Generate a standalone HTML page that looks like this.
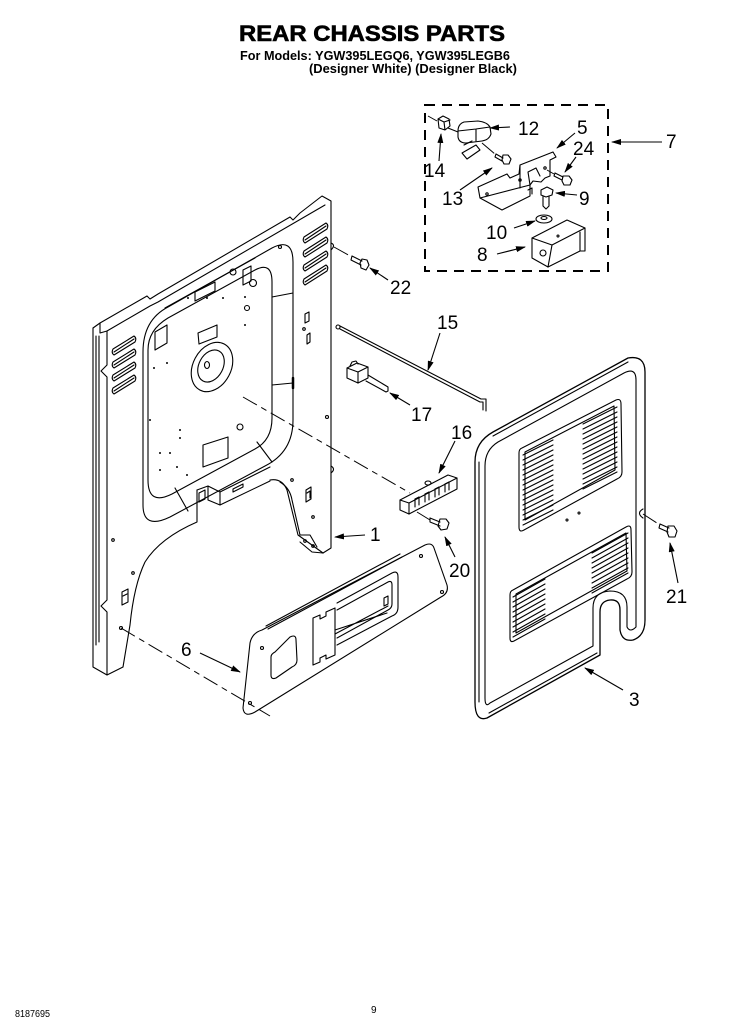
<!DOCTYPE html>
<html><head><meta charset="utf-8"><style>
html,body{margin:0;padding:0;background:#fff;}
svg{display:block;}
text{font-family:"Liberation Sans",Arial,sans-serif;fill:#000;}
.n{font-size:19px;}
</style></head><body>
<svg width="750" height="1036" viewBox="0 0 750 1036" xmlns="http://www.w3.org/2000/svg">
<rect width="750" height="1036" fill="#fff"/>
<!-- Titles -->
<text x="239" y="41" font-size="22" font-weight="bold" textLength="266" lengthAdjust="spacingAndGlyphs" stroke="#000" stroke-width="0.6">REAR CHASSIS PARTS</text>
<text x="240" y="60" font-size="13" font-weight="bold" textLength="270" lengthAdjust="spacingAndGlyphs">For Models: YGW395LEGQ6, YGW395LEGB6</text>
<text x="309" y="73" font-size="13" font-weight="bold" textLength="208" lengthAdjust="spacingAndGlyphs">(Designer White)  (Designer Black)</text>

<g fill="none" stroke="#000" stroke-width="1.1" stroke-linejoin="round" stroke-linecap="round">
<!-- ============ CHASSIS (1) ============ -->
<path d="M93,328 L100,323 L147,296 L150,299 L158,294 L290,217 L293,220 L300,213 L322,196 L331,201 L331,548 L323,553"/>
<path d="M100,323 L100,333 L107,331 L150,306 L158,302 L325,205"/>
<path d="M93,328 L93,667 L107,675 L123,667"/>
<path d="M107,331 L107,365 L101,371 L107,377 L107,600 L101,606 L107,612 L107,675"/>
<path d="M96,336 L96,645 M99,336 L99,642"/>
<path d="M123,667 L130,625 Q134,585 145,562 Q160,538 197,522 L197,490"/>
<!-- right leg -->
<path d="M270,480 Q282,478 287,490 L298,535 L323,553"/>
<path d="M280,482 Q290,488 292,500 L300,535 L310,535 L317,547"/>
<path d="M300,542 L312,552 L323,553"/>
<circle cx="305" cy="541" r="1.3"/><circle cx="313" cy="546" r="1.3"/>
<!-- channel -->
<path d="M197,490 L208,486 L220,492 L270,467"/>
<path d="M208,486 L208,500 L220,505 L270,481"/>
<path d="M220,492 L220,505"/>
<path d="M199,493 L205,490 L205,499 L199,502 Z"/>
<path d="M233,489 L243,484 L243,487 L233,492 Z"/>
<!-- recess -->
<path d="M143,352 Q143,320 168,307 L272,248 Q293,237 293,262 L293,420 Q293,452 265,466 L170,517 Q143,530 143,505 Z"/>
<path d="M148,350 Q148,330 168,318 L255,270 Q272,261 272,282 L272,418 Q272,440 255,449 L172,494 Q148,506 148,480 Z"/>
<path d="M272,297 L293,293 M272,385 L293,383 M257,442 L272,462 M175,488 L188,511 M165,308 L255,258"/>
<path d="M293,378 L293,388" stroke-width="2.5"/>
<ellipse cx="212" cy="367" rx="19" ry="26" transform="rotate(28 212 367)"/>
<ellipse cx="211" cy="366" rx="12" ry="17" transform="rotate(28 211 366)"/>
<ellipse cx="207" cy="365" rx="2.5" ry="3.5"/>
<path d="M155,332 L167,325 L167,343 L155,350 Z"/>
<path d="M198,333 L217,325 L217,337 L199,344 Z"/>
<path d="M203,445 L228,437 L228,458 L203,467 Z"/>
<path d="M195,292 L215,282 L215,291 L195,301 Z"/>
<path d="M243,270 L251,266 L251,281 L243,285 Z"/>
<circle cx="233" cy="272" r="3"/><circle cx="253" cy="283" r="3.5"/>
<circle cx="247" cy="308" r="2.5"/><circle cx="240" cy="427" r="3"/>
<circle cx="280" cy="247" r="1.5"/>
<g fill="#000" stroke="none">
<circle cx="188" cy="298" r="1"/><circle cx="207" cy="298" r="1"/><circle cx="223" cy="298" r="1"/>
<circle cx="245" cy="297" r="1"/><circle cx="245" cy="325" r="1"/><circle cx="167" cy="363" r="1"/>
<circle cx="154" cy="368" r="1"/><circle cx="150" cy="420" r="1"/><circle cx="180" cy="430" r="1"/>
<circle cx="180" cy="438" r="1"/><circle cx="160" cy="453" r="1"/><circle cx="170" cy="453" r="1"/>
<circle cx="177" cy="467" r="1"/><circle cx="160" cy="470" r="1"/><circle cx="187" cy="475" r="1"/>
</g>
<!-- louvers right -->
<path d="M304,237 L326,223 Q329,225 327,229 L305,243 Q302,241 304,237 Z M305,240 L326,226"/>
<path d="M304,251 L326,237 Q329,239 327,243 L305,257 Q302,255 304,251 Z M305,254 L326,240"/>
<path d="M304,265 L326,251 Q329,253 327,257 L305,271 Q302,269 304,265 Z M305,268 L326,254"/>
<path d="M304,279 L326,265 Q329,267 327,271 L305,285 Q302,283 304,279 Z M305,282 L326,268"/>
<!-- louvers left -->
<path d="M113,349 L134,336 Q137,338 135,342 L114,355 Q111,353 113,349 Z M114,352 L134,339"/>
<path d="M113,362 L134,349 Q137,351 135,355 L114,368 Q111,366 113,362 Z M114,365 L134,352"/>
<path d="M113,375 L134,362 Q137,364 135,368 L114,381 Q111,379 113,375 Z M114,378 L134,365"/>
<path d="M113,388 L134,375 Q137,377 135,381 L114,394 Q111,392 113,388 Z M114,391 L134,378"/>
<!-- side holes -->
<path d="M305,314 L309,312 L309,321 L305,323 Z M307,335 L310,333 L310,342 L307,344 Z"/>
<circle cx="304" cy="329" r="1.3"/><circle cx="327" cy="417" r="1.5"/>
<path d="M331,243 Q336,245 331,250 M331,466 Q336,469 331,473"/>
<circle cx="292" cy="480" r="1.3"/><circle cx="313" cy="517" r="1.3"/>
<path d="M306,490 L311,487 L311,499 L306,502 Z M307,493 L310,491 L310,498"/>
<circle cx="113" cy="540" r="1.3"/><circle cx="133" cy="573" r="1.3"/><circle cx="121" cy="628" r="1.5"/>
<path d="M122,592 L128,589 L128,602 L122,605 Z M123,596 L127,594"/>

<!-- ============ PART 15 rod ============ -->
<circle cx="338" cy="327" r="2"/>
<path d="M340,326 L481,399 L486,399 L486,411"/>
<path d="M340,329 L480,402 L483,402 L483,410"/>
<!-- ============ PART 17 switch ============ -->
<path d="M347,368 L357,363 L368,367 L358,372 Z"/>
<path d="M347,368 L347,378 L358,383 L358,372"/>
<path d="M358,383 L368,378 L368,367"/>
<path d="M350,366 L352,362 L356,361 L358,364"/>
<path d="M368,375 L388,387 L388,391 L386,392 L366,381"/>
<!-- ============ PART 16 terminal block ============ -->
<path d="M400,500 L448,475 L457,478 L409,503 Z"/>
<path d="M400,500 L400,510 L409,514 L409,503"/>
<path d="M409,514 L457,489 L457,478"/>
<path d="M415,499 L415,507 M419,497 L419,505 M425,494 L425,502 M429,492 L429,500 M435,489 L435,497 M439,487 L439,495 M445,484 L445,492 M449,482 L449,490"/>
<path d="M415,499 L419,497 M425,494 L429,492 M435,489 L439,487 M445,484 L449,482"/>
<ellipse cx="428" cy="483" rx="3" ry="2"/>
<!-- ============ PART 20 screw ============ -->
<path d="M430,518 L440,522 M430,522 L440,526 M430,518 L430,522"/>
<path d="M440,519 L446,519 L449,523 L447,529 L441,530 L438,526 Z"/>
<!-- ============ PART 22 screw ============ -->
<path d="M352,256 L362,261 M351,260 L361,265 M352,256 L351,260"/>
<path d="M362,259 L367,260 L369,265 L366,270 L361,268 L360,263 Z"/>
<!-- ============ PART 3 panel ============ -->
<path d="M487,718 L600,655 L600,612 Q600,601 610,600 Q620,599 620,610 L620,630 Q622,642 633,640 Q645,636 645,620 L645,372 Q645,355 628,358 L493,432 Q475,442 475,462 L475,702 Q475,722 487,718 Z" stroke-width="1.3"/>
<path d="M489,713 L597,653 M479,462 L479,702 M493,436 L628,362"/>
<path d="M490,703 L593,646 L593,608 Q593,592 610,591 Q627,591 627,607 L627,627 Q630,633 636,627 L636,380 Q636,367 624,373 L498,442 Q485,450 485,466 L485,698 Q485,708 490,703 Z"/>
<path d="M643,509 Q636,513 643,518"/>
<!-- upper vent -->
<path d="M522,448 L616,400 Q621,398 621,404 L622,472 Q622,477 617,479 L524,530 Q519,533 519,527 L519,453 Q519,449 522,448 Z"/>
<path d="M525,452 L614,406 L615,470 L525,520 Z"/>
<path d="M523,455 L553,440 M523,460 L553,445 M523,465 L553,450 M523,470 L553,455 M523,475 L553,460 M523,480 L553,465 M523,485 L553,470 M523,490 L553,475 M523,495 L553,480 M523,500 L553,485 M523,505 L553,490 M523,510 L553,495 M523,515 L553,500 M523,520 L553,505 M523,525 L553,510"/>
<path d="M583,424 L617,407 M583,429 L617,412 M583,434 L617,417 M583,439 L617,422 M583,444 L617,427 M583,449 L617,432 M583,454 L617,437 M583,459 L617,442 M583,464 L617,447 M583,469 L617,452 M583,474 L617,457 M583,479 L617,462 M583,484 L617,467 M583,489 L617,472"/>
<!-- lower vent -->
<path d="M513,590 L626,527 Q631,524 631,530 L632,572 Q632,577 627,579 L514,641 Q510,643 510,638 L510,595 Q510,591 513,590 Z"/>
<path d="M516,594 L626,533 L627,571 L516,633 Z"/>
<path d="M513,597 L545,579 M513,602 L545,584 M513,607 L545,589 M513,612 L545,594 M513,617 L545,599 M513,622 L545,604 M513,627 L545,609 M513,632 L545,614 M513,637 L545,619"/>
<path d="M592,553 L628,533 M592,558 L628,538 M592,563 L628,543 M592,568 L628,548 M592,573 L628,553 M592,578 L628,558 M592,583 L628,563 M592,588 L628,568 M592,593 L628,573"/>
<circle cx="567" cy="520" r="1"/><circle cx="579" cy="513" r="1"/>
<!-- ============ PART 21 screw ============ -->
<path d="M660,524 L669,528 M659,528 L668,532 M660,524 L659,528"/>
<path d="M668,526 L674,526 L677,531 L675,537 L669,537 L667,532 Z"/>
<!-- ============ PART 6 panel ============ -->
<path d="M250,643 Q252,633 262,630 L425,545 Q432,542 434,548 L447,585 Q449,593 441,597 L255,712 Q244,718 243,708 Z"/>
<path d="M266,626 L400,554 M268,629 L402,557"/>
<path d="M275,652 L290,637 Q296,634 296,640 L297,660 Q297,665 292,667 L276,678 Q271,680 271,675 L271,657 Q271,654 275,652 Z"/>
<path d="M313,618 L320,615 L320,619 L326,616 L326,612 L335,608 L335,655 L326,659 L326,655 L320,658 L320,662 L313,665 Z"/>
<path d="M337,603 L392,573 Q398,570 398,577 L398,607 Q398,614 392,616 L337,645 M337,610 L388,582 Q392,580 392,585 L392,604 Q392,608 388,610 L337,638"/>
<path d="M335,630 L387,613 M335,634 L388,606"/>
<path d="M384,598 L388,596 L388,604 L384,606 Z"/>
<circle cx="262" cy="648" r="1.5"/><circle cx="250" cy="703" r="1.5"/>
<circle cx="421" cy="556" r="1.5"/><circle cx="442" cy="592" r="1.5"/>

<!-- ============ DASHED BOX PARTS ============ -->
<!-- 14 nut -->
<path d="M438,119 L443,116 L449,119 L450,126 L445,130 L439,128 Z M438,119 L444,122 L450,120 M444,122 L445,130"/>
<!-- 12 -->
<path d="M458,131 Q458,124 464,122 L478,121 Q487,122 490,127 L491,134 Q489,140 482,141 L466,143 Q459,143 458,137 Z"/>
<path d="M458,131 L476,129 L490,127 M476,129 L476,141"/>
<path d="M462,153 L476,145 L480,150 L467,159 Z M464,145 L472,141"/>
<!-- 13 screw -->
<path d="M496,154 L503,158 M495,157 L502,161 M496,154 L495,157"/>
<path d="M503,155 L508,155 L511,159 L509,164 L504,164 L502,160 Z"/>
<!-- 5 bracket -->
<path d="M478,187 L507,174 L510,178 L519,174 L520,165 L553,152 L556,157 L550,160 L550,176 L545,178 L541,182 L533,181 L530,185 L530,196 L502,210 L480,198 Z"/>
<path d="M480,198 L530,185 M520,165 L520,188 M530,185 L528,172 L536,168 L540,176"/>
<path d="M528,190 L532,188 L532,194"/>
<circle cx="487" cy="194" r="1.2"/><circle cx="520" cy="180" r="1.2"/><circle cx="545" cy="168" r="1.2"/>
<!-- 24 screw -->
<path d="M555,173 L563,177 M554,176 L562,180 M555,173 L554,176"/>
<path d="M563,176 L569,176 L572,180 L570,185 L564,185 L562,181 Z"/>
<!-- 9 screw -->
<path d="M541,190 L547,187 L553,190 L552,195 L546,197 L541,195 Z"/>
<path d="M543,196 L543,206 L546,209 L549,206 L549,196"/>
<!-- 10 washer -->
<ellipse cx="544" cy="219" rx="8" ry="4"/>
<ellipse cx="544" cy="218" rx="3" ry="1.5"/>
<!-- 8 box -->
<path d="M532,238 L567,220 L585,228 L552,245 Z"/>
<path d="M532,238 L532,258 L548,267 L552,245"/>
<path d="M548,267 L580,251 L585,251 L585,228"/>
<path d="M580,251 L580,232"/>
<circle cx="543" cy="253" r="3"/><circle cx="558" cy="236" r="1"/>
</g>

<!-- dashed box -->
<rect x="425" y="105" width="183" height="166" fill="none" stroke="#000" stroke-width="2" stroke-dasharray="10,7"/>

<!-- dashed leader/hidden lines -->
<g fill="none" stroke="#000" stroke-width="1" stroke-dasharray="16,5,6,5">
<path d="M243,397 L410,493"/>
<path d="M121,628 L270,716"/>
<path d="M334,247 L352,257"/>
<path d="M643,514 L660,525"/>
<path d="M417,512 L430,520"/>
<path d="M428,116 L437,121"/>
<path d="M448,128 L458,132"/>
<path d="M482,143 L495,154"/>
<path d="M547,170 L554,174"/>
</g>

<!-- arrows -->
<defs>
<marker id="ah" markerWidth="10" markerHeight="6" refX="9" refY="3" orient="auto" markerUnits="userSpaceOnUse">
<path d="M0,0 L10,3 L0,6 Z" fill="#000"/>
</marker>
</defs>
<g fill="none" stroke="#000" stroke-width="1.1" marker-end="url(#ah)">
<path d="M510,127 L490,128"/>
<path d="M575,133 L557,148"/>
<path d="M576,157 L565,172"/>
<path d="M662,142 L612,142"/>
<path d="M439,161 L441,134"/>
<path d="M460,190 L492,168"/>
<path d="M577,195 L556,193"/>
<path d="M514,228 L535,221"/>
<path d="M497,254 L525,247"/>
<path d="M388,280 L370,268"/>
<path d="M440,333 L428,370"/>
<path d="M410,405 L390,393"/>
<path d="M455,441 L439,473"/>
<path d="M365,535 L335,537"/>
<path d="M455,557 L445,537"/>
<path d="M678,583 L670,543"/>
<path d="M623,690 L585,668"/>
<path d="M200,653 L240,672"/>
</g>

<!-- labels -->
<text class="n" x="518" y="135">12</text>
<text class="n" x="577" y="134">5</text>
<text class="n" x="573" y="155">24</text>
<text class="n" x="666" y="148">7</text>
<text class="n" x="424" y="177">14</text>
<text class="n" x="442" y="205">13</text>
<text class="n" x="579" y="205">9</text>
<text class="n" x="486" y="239">10</text>
<text class="n" x="477" y="261">8</text>
<text class="n" x="390" y="294">22</text>
<text class="n" x="437" y="329">15</text>
<text class="n" x="411" y="421">17</text>
<text class="n" x="451" y="439">16</text>
<text class="n" x="370" y="541">1</text>
<text class="n" x="449" y="577">20</text>
<text class="n" x="666" y="603">21</text>
<text class="n" x="629" y="706">3</text>
<text class="n" x="181" y="656">6</text>

<!-- footer -->
<text x="15" y="1017" font-size="10" textLength="35" lengthAdjust="spacingAndGlyphs">8187695</text>
<text x="371" y="1013" font-size="10">9</text>
</svg>
</body></html>
